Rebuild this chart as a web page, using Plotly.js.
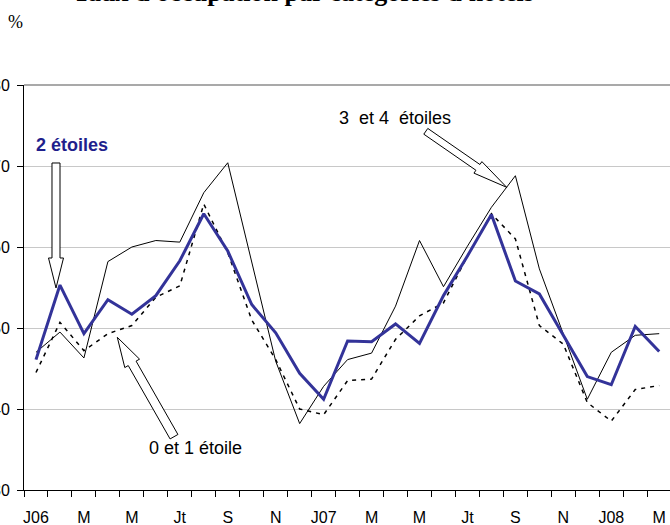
<!DOCTYPE html>
<html>
<head>
<meta charset="utf-8">
<script src="https://cdn.plot.ly/plotly-3.0.1.min.js"></script>
<style>html,body{margin:0;padding:0;background:#fff;}#chart{width:670px;height:525px;}</style>
</head>
<body>
<div id="chart"></div>
<script>
// Months Jan 2006 .. Mar 2008
var months = ["J06","F","M","A","M","Jn","Jt","A","S","O","N","D",
              "J07","F","M","A","M","Jn","Jt","A","S","O","N","D",
              "J08","F","M"];
var tickLabels = ["J06","M","M","Jt","S","N","J07","M","M","Jt","S","N","J08","M"];

var deuxEtoiles = [46.1,55.3,49.3,53.5,51.7,54.0,58.3,64.1,59.5,52.9,49.4,44.4,41.2,48.4,48.3,50.5,48.1,54.0,58.9,64.0,55.8,54.2,49.1,44.0,43.0,50.2,47.1];
var troisQuatreEtoiles = [47.0,49.5,46.3,58.2,60.0,60.8,60.6,66.7,70.4,58.0,45.9,38.2,42.8,46.1,46.9,52.7,60.8,55.1,60.1,64.9,68.8,57.3,49.2,41.2,47.0,49.1,49.3];
var zeroUnEtoile = [44.5,50.7,47.2,49.3,50.3,53.8,55.2,65.3,59.3,51.0,46.1,40.0,39.3,43.5,43.7,48.6,51.5,53.1,58.9,64.1,61.0,50.3,48.0,40.8,38.5,42.4,42.9];

var idx = months.map(function(_, i){ return i; });
var tickIdx = tickLabels.map(function(_, i){ return 2*i; });
var bounds = [];
for (var b = 0; b <= months.length; b++) bounds.push(b - 0.5);

// layout geometry (pixels)
var W = 670, H = 525, L = 24, R = 0, T = 85, B = 35;
var pw = W - L - R, ph = H - T - B;
function px(x){ return (x - L) / pw; }
function py(y){ return (H - B - y) / ph; }

// hollow block arrow path in paper coordinates
function blockArrow(tx, ty, hx, hy, shaftHalf, headHalf, headLen){
  var dx = hx - tx, dy = hy - ty, len = Math.sqrt(dx*dx + dy*dy);
  var ux = dx/len, uy = dy/len, nx = -uy, ny = ux;
  var bx = hx - ux*headLen, by = hy - uy*headLen;
  var pts = [
    [tx + nx*shaftHalf, ty + ny*shaftHalf],
    [bx + nx*shaftHalf, by + ny*shaftHalf],
    [bx + nx*headHalf, by + ny*headHalf],
    [hx, hy],
    [bx - nx*headHalf, by - ny*headHalf],
    [bx - nx*shaftHalf, by - ny*shaftHalf],
    [tx - nx*shaftHalf, ty - ny*shaftHalf]
  ];
  var d = pts.map(function(p, i){ return (i ? "L" : "M") + px(p[0]).toFixed(5) + "," + py(p[1]).toFixed(5); }).join(" ") + " Z";
  return {type:"path", xref:"paper", yref:"paper", path:d, fillcolor:"#ffffff", line:{color:"#000000", width:1}, layer:"above"};
}

var traces = [
  {x: idx, y: zeroUnEtoile, type:"scatter", mode:"lines", name:"0 et 1 étoile",
   line:{color:"#000000", width:1.5, dash:"4px,5px"}},
  {x: idx, y: troisQuatreEtoiles, type:"scatter", mode:"lines", name:"3 et 4 étoiles",
   line:{color:"#000000", width:1}},
  {x: idx, y: deuxEtoiles, type:"scatter", mode:"lines", name:"2 étoiles",
   line:{color:"#333399", width:3}}
];

var font = "Liberation Sans, Arial, sans-serif";
var layout = {
  width: W, height: H,
  margin: {l:L, r:R, t:T, b:B, pad:0},
  paper_bgcolor:"#ffffff", plot_bgcolor:"#ffffff",
  showlegend:false,
  xaxis: {
    range:[-0.5, 26.45], tickmode:"array", tickvals: tickIdx, ticktext: tickLabels,
    ticks:"", showgrid:false, zeroline:false, showline:true, linecolor:"#000000", linewidth:1,
    tickfont:{family:font, size:16, color:"#000000"}, ticklabelstandoff:13,
    minor:{tickmode:"array", tickvals: bounds, ticks:"outside", ticklen:6, tickcolor:"#000000", tickwidth:1, showgrid:false}
  },
  yaxis: {
    range:[30, 80], tickmode:"linear", tick0:30, dtick:10,
    ticks:"outside", ticklen:6, tickcolor:"#000000", tickwidth:1,
    showgrid:true, gridcolor:"#c8c8c8", gridwidth:1, zeroline:false,
    showline:true, linecolor:"#000000", linewidth:1,
    tickfont:{family:font, size:16, color:"#000000"}, ticklabelstandoff:4
  },
  shapes: [
    {type:"line", xref:"paper", yref:"paper", x0:0, x1:1, y0:1, y1:1, line:{color:"#8c8c8c", width:1.5}},
    blockArrow(56, 163, 56, 288, 4, 7.5, 30),
    blockArrow(425.8, 131.3, 506.7, 187.3, 3.5, 7, 35),
    blockArrow(174, 436.7, 117.3, 337.3, 4.5, 8.5, 30)
  ],
  annotations: [
    {xref:"paper", yref:"paper", x:px(303), y:py(9), xanchor:"center", yanchor:"bottom", showarrow:false,
     text:"<b>Taux d'occupation par catégories d'hôtels</b>", font:{family:"Liberation Serif, Times New Roman, serif", size:26, color:"#000000"}},
    {xref:"paper", yref:"paper", x:px(15), y:py(22), xanchor:"center", yanchor:"middle", showarrow:false,
     text:"%", font:{family:"Liberation Serif, Times New Roman, serif", size:18, color:"#000000"}},
    {xref:"paper", yref:"paper", x:px(72), y:py(145), xanchor:"center", yanchor:"middle", showarrow:false,
     text:"<b>2 étoiles</b>", font:{family:font, size:18, color:"#1f1f8c"}},
    {xref:"paper", yref:"paper", x:px(395), y:py(118), xanchor:"center", yanchor:"middle", showarrow:false,
     text:"3\u00a0 et 4\u00a0 étoiles", font:{family:font, size:18, color:"#000000"}},
    {xref:"paper", yref:"paper", x:px(195), y:py(448), xanchor:"center", yanchor:"middle", showarrow:false,
     text:"0 et 1 étoile", font:{family:font, size:18, color:"#000000"}}
  ]
};

Plotly.newPlot("chart", traces, layout, {displayModeBar:false, staticPlot:true});
</script>
</body>
</html>
